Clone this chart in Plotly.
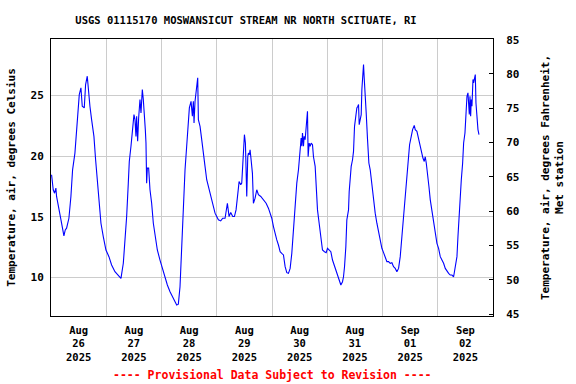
import pandas as pd
import plotly.graph_objects as go

start = "2025-08-26 00:00"
hours = [0.25, 0.97, 1.55, 2.13, 2.42, 3.14, 3.58, 4.59, 5.61, 6.19, 6.77, 7.78, 8.65, 9.38, 10.39, 11.12,
         11.84, 12.28, 13.0, 13.58, 14.45, 15.03, 15.75, 16.48, 16.91, 17.64, 18.65, 19.38, 20.1, 20.97,
         21.7, 22.71, 23.87, 25.17, 26.33, 27.78, 29.23, 30.39, 31.41, 32.28, 32.86, 33.58, 34.01, 34.74,
         35.46, 36.04, 36.48, 36.91, 37.2, 37.64, 38.07, 38.65, 39.09, 39.67, 40.1, 40.54, 40.97, 41.26,
         41.55, 41.84, 42.42, 43.0, 43.72, 44.45, 45.17, 46.19, 47.35, 48.51, 49.52, 50.54, 51.7, 52.86,
         53.87, 54.6, 55.32, 55.61, 56.04, 56.48, 57.06, 57.49, 58.22, 58.94, 59.52, 60.1, 60.83, 61.41,
         61.84, 62.13, 62.57, 63.0, 63.29, 63.73, 64.02, 64.74, 65.47, 66.19, 66.91, 67.64, 68.36, 69.09,
         69.81, 70.54, 71.26, 71.99, 72.71, 73.73, 74.6, 75.61, 76.04, 76.62, 77.35, 78.07, 78.94, 79.67,
         80.39, 80.97, 81.41, 81.7, 82.42, 82.86, 83.29, 83.73, 84.02, 84.45, 84.74, 85.03, 85.47, 85.76,
         86.19, 86.48, 86.92, 87.49, 87.93, 88.65, 89.38, 90.1, 91.12, 92.28, 93.44, 94.45, 95.17,
         95.9, 96.63, 97.35, 98.08, 98.8, 99.53, 100.25, 100.98, 101.7, 102.43, 103.15, 103.88, 104.6,
         105.33, 106.05, 106.77, 107.5, 107.93, 108.22, 108.66, 108.95, 109.24, 109.67, 109.96, 110.4,
         110.69, 111.12, 111.41, 111.7, 112.14, 112.57, 113.01, 113.59, 114.02, 114.75, 115.18, 115.76,
         116.48, 117.21, 117.93, 118.8, 119.53, 120.11, 120.83, 121.56, 122.28, 123.01, 123.73, 124.46,
         125.18, 125.91, 126.63, 127.06, 127.5, 128.08, 128.51, 129.24, 129.53, 129.96, 130.4, 130.98,
         131.41, 131.85, 132.43, 132.86, 133.3, 133.59, 133.88, 134.31, 134.75, 135.04, 135.33, 135.76,
         136.05, 136.49, 136.92, 137.5, 138.08, 138.66, 139.38, 140.11, 140.83, 141.56, 142.28, 143.01,
         143.73, 144.46, 145.18, 145.91, 146.63, 147.35, 148.08, 148.8, 149.53, 150.25, 150.98, 151.7,
         152.43, 153.15, 153.88, 154.6, 155.04, 155.76, 156.49, 157.07, 157.79, 158.22, 158.95, 159.67,
         160.4, 161.12, 161.56, 162.14, 162.57, 163.01, 163.59, 164.17, 164.75, 165.47, 166.2, 166.92,
         167.65, 168.37, 169.1, 169.82, 170.54, 171.27, 171.99, 172.72, 173.44, 174.17, 174.89, 175.62,
         176.34, 176.78, 177.36, 177.79, 178.23, 178.81, 179.24, 179.82, 180.25, 180.69, 181.12, 181.42,
         181.71, 182.0, 182.29, 182.57, 182.86, 183.3, 183.59, 183.88, 184.31, 184.6, 185.04, 185.47,
         185.91]
temp_c = [18.46, 17.22, 16.94, 17.36, 16.67, 15.84, 15.42, 14.46, 13.41, 13.91, 14.05, 14.87, 16.67, 18.87,
          20.25, 21.91, 24.12, 25.08, 25.64, 24.12, 23.98, 25.91, 26.6, 24.67, 24.12, 23.01, 21.63, 19.7,
          17.91, 15.84, 14.46, 13.36, 12.25, 11.7, 11.01, 10.46, 10.18, 9.91, 11.15, 13.36, 15.01, 17.77,
          19.56, 20.81, 22.19, 23.43, 23.01, 21.63, 23.29, 21.22, 23.15, 24.67, 23.56, 25.5, 24.67, 22.74,
          22.19, 21.08, 17.77, 19.01, 19.01, 17.22, 16.11, 14.46, 13.36, 12.25, 11.42, 10.6, 9.91, 9.36,
          8.8, 8.39, 7.97, 7.7, 7.78, 8.39, 9.22, 11.15, 13.91, 16.67, 18.87, 20.81, 22.46, 23.98, 24.53,
          23.29, 24.53, 22.74, 24.53, 25.36, 26.05, 26.46, 23.01, 22.46, 21.36, 19.95, 19.15, 18.05, 17.49,
          17.08, 16.39, 15.7, 15.29, 15.01, 14.74, 14.65, 14.87, 14.87, 15.56, 16.11, 15.01, 15.34, 15.01,
          15.01, 15.56, 16.39, 17.36, 17.91, 17.63, 17.77, 19.15, 20.25, 21.77, 21.08, 18.87, 16.67, 19.95,
          20.25, 20.12, 20.53, 19.7, 18.6, 16.11, 16.53, 17.22, 16.81, 16.67, 16.39, 16.11, 15.7, 15.29,
          14.87, 14.18, 13.49, 13.08, 12.66, 12.11, 11.97, 11.84, 10.87, 10.38, 10.32, 10.73, 11.97,
          14.18, 16.39, 17.77, 18.87, 19.95, 21.08, 21.5, 20.81, 21.91, 20.81, 21.63, 21.36,
          22.19, 23.29, 23.7, 19.95, 21.08, 20.81, 21.08, 20.94, 19.95, 19.15, 17.49, 15.56,
          14.46, 13.08, 12.25, 12.11, 12.03, 12.39, 12.25, 12.11, 11.42, 11.01, 10.6, 10.04,
          9.77, 9.36, 9.63, 10.04, 10.87, 12.53, 14.74, 15.56, 17.08, 18.32, 19.15, 19.7,
          20.39, 22.46, 23.43, 23.98, 24.12, 24.26, 22.6, 23.15, 23.43, 25.5, 26.46, 27.57,
          26.46, 24.39, 23.56, 21.36, 19.43, 18.87, 17.49, 16.11, 15.29, 14.46, 13.77, 12.94,
          12.39, 12.03, 11.56, 11.29, 11.29, 11.15, 11.2, 10.87, 10.73, 10.46, 10.73, 11.7,
          13.36, 14.87, 16.39, 17.91, 19.15, 20.94, 21.63, 22.19, 22.54, 22.19, 22.05, 21.36,
          20.67, 20.25, 19.84, 19.56, 19.95, 19.43, 18.6, 17.49, 16.39, 15.43, 14.6, 13.63,
          12.8, 12.39, 11.7, 11.42, 11.15, 10.73, 10.46, 10.32, 10.18, 10.18, 10.04, 10.87,
          11.7, 13.36, 15.56, 16.67, 18.05, 19.43, 21.08, 21.91, 23.84, 24.94, 25.22, 24.53,
          23.43, 24.94, 23.29, 24.67, 24.12, 26.33, 26.05, 26.33, 26.74, 24.39, 22.74, 22.19,
          21.77]

celsius_ticks = [10, 15, 20, 25]
fahrenheit_ticks = [45, 50, 55, 60, 65, 70, 75, 80, 85]
x_range = ["2025-08-26 00:00", "2025-09-03 00:00"]
c_range = [6.80, 29.67]
f_range = [44.71, 85.10]

title_text = "USGS 01115170 MOSWANSICUT STREAM NR NORTH SCITUATE, RI"
left_title = "Temperature, air, degrees Celsius"
right_title = "Temperature, air, degrees Fahrenheit,<br>Met station"
footer = "---- Provisional Data Subject to Revision ----"

times = pd.Timestamp(start) + pd.to_timedelta(hours, unit="h")

FONT = "DejaVu Sans Mono"

fig = go.Figure()
fig.add_trace(go.Scatter(x=times, y=temp_c, mode="lines",
                         line=dict(color="#0000FF", width=1.1), showlegend=False,
                         hoverinfo="skip"))
# invisible trace to activate right axis
fig.add_trace(go.Scatter(x=[times[0]], y=[None], yaxis="y2", showlegend=False,
                         hoverinfo="skip"))

fig.update_layout(
    width=576, height=384,
    margin=dict(l=51, r=83, t=39, b=68, autoexpand=False),
    paper_bgcolor="white", plot_bgcolor="white",
    font=dict(family=FONT, color="black", size=11, weight="bold"),
    title=dict(text=title_text, x=246/576, xref="container", xanchor="center",
               y=1 - 20/384, yref="container", yanchor="middle",
               font=dict(family=FONT, size=10.5, color="black", weight="bold")),
    xaxis=dict(range=x_range, type="date", tick0="2025-08-26", dtick=86400000,
               tickformat="%b<br>%d<br>%Y", ticklabelmode="period",
               showgrid=True, gridcolor="#CCCCCC", gridwidth=1,
               ticks="", showline=True, linecolor="black", linewidth=1, mirror=True,
               tickfont=dict(family=FONT, size=10.5, color="black", weight="bold"),
               ticklabelstandoff=4, zeroline=False),
    yaxis=dict(range=c_range, tickvals=celsius_ticks, showgrid=True,
               gridcolor="#CCCCCC", gridwidth=1, ticks="", showline=True,
               linecolor="black", linewidth=1, zeroline=False,
               tickfont=dict(family=FONT, size=11, color="black", weight="bold"),
               ticklabelstandoff=4,
               title=dict(text=left_title, standoff=12,
                          font=dict(family=FONT, size=11, color="black", weight="bold"))),
    yaxis2=dict(range=f_range, tickvals=fahrenheit_ticks, overlaying="y", side="right",
                showgrid=False, ticks="inside", ticklen=4, tickcolor="black",
                showline=True, linecolor="black", linewidth=1, zeroline=False,
                tickfont=dict(family=FONT, size=11, color="black", weight="bold"),
                ticklabelstandoff=10,
                title=dict(text=right_title, standoff=22,
                           font=dict(family=FONT, size=11, color="black", weight="bold"))),
    annotations=[dict(text=footer, xref="paper", yref="paper", x=0.5, y=-(375-316)/277,
                      xanchor="center", yanchor="middle", showarrow=False,
                      font=dict(family=FONT, size=11.5, color="red", weight="bold"))],
)

fig.write_html("out.html", config={"displayModeBar": False},
               post_script="document.body.style.margin='0';")
